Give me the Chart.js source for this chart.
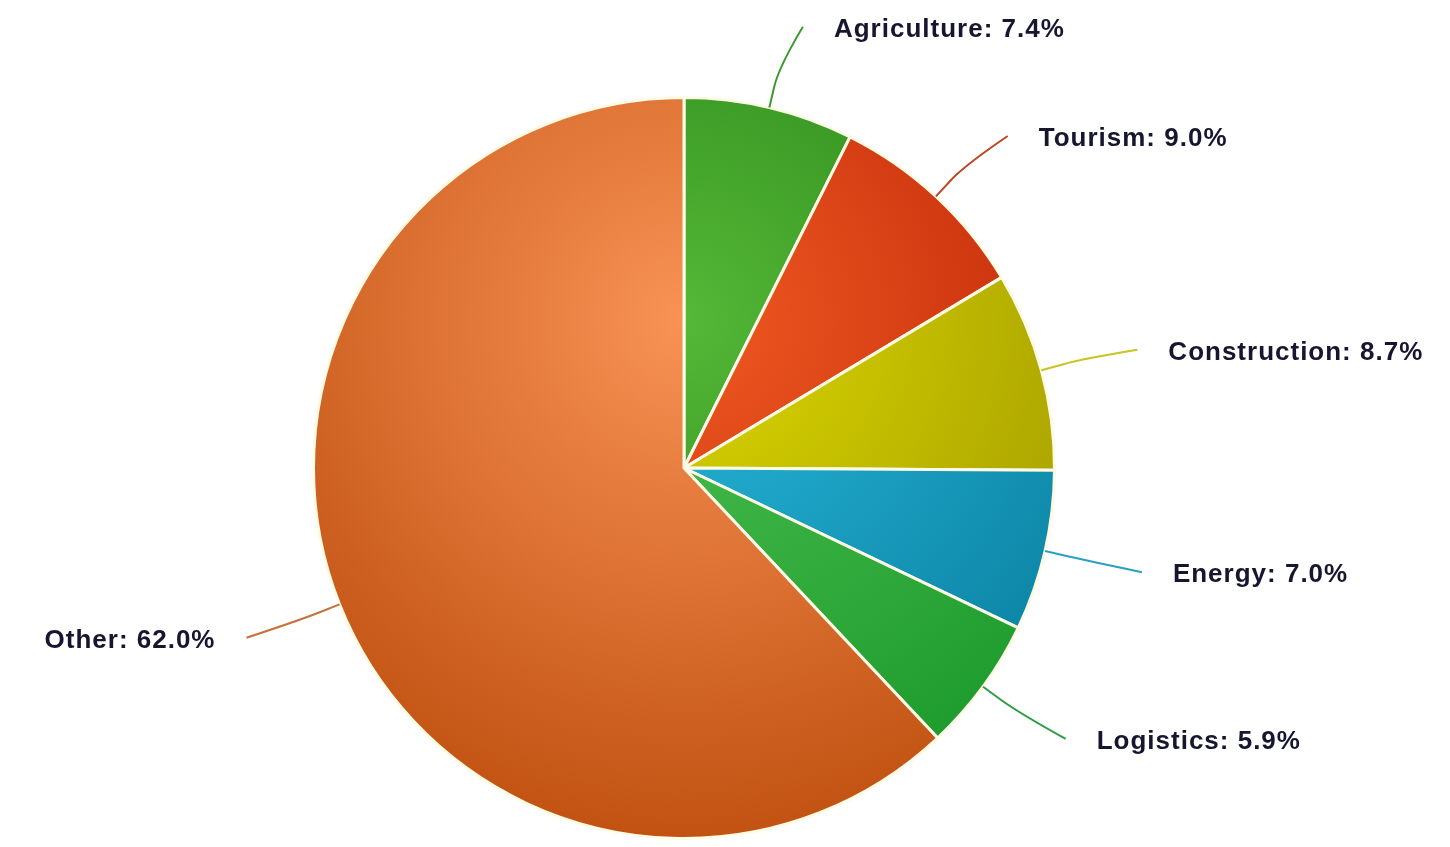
<!DOCTYPE html>
<html>
<head>
<meta charset="utf-8">
<script src="https://cdn.jsdelivr.net/npm/chart.js@4.4.1/dist/chart.umd.min.js"></script>
<style>
  html, body { margin: 0; padding: 0; background: #ffffff; }
  #wrap { position: relative; width: 1450px; height: 847px; }
</style>
</head>
<body>
<div id="wrap"><canvas id="c"></canvas></div>
<script>
const categories = ['Agriculture', 'Tourism', 'Construction', 'Energy', 'Logistics', 'Other'];
const shares = [7.4, 9.0, 8.7, 7.0, 5.9, 62.0];
const lightColors = ['#55b837', '#f05a22', '#dcd800', '#28b8dc', '#4cc050', '#f89255'];
const darkColors  = ['#1f7a12', '#b82004', '#a09800', '#0a80a0', '#1c9a2c', '#c15212'];
const lineColors  = ['#3c9a2c', '#c04422', '#c8c420', '#2aa0c0', '#2e9e44', '#c8703a'];

function sliceFill(ctx) {
  const chart = ctx.chart;
  const area = chart.chartArea;
  const i = ctx.dataIndex;
  if (!area) return lightColors[i];
  const d = Math.min(area.right - area.left, area.bottom - area.top);
  const cx = (area.left + area.right) / 2;
  const top = (area.top + area.bottom) / 2 - d / 2;
  const cy = top + 0.3 * d;
  const g = chart.ctx.createRadialGradient(cx, cy, 0, cx, cy, 0.7 * d);
  g.addColorStop(0, lightColors[i]);
  g.addColorStop(1, darkColors[i]);
  return g;
}

const labelPlugin = {
  id: 'sliceLabels',
  afterDraw(chart) {
    const meta = chart.getDatasetMeta(0);
    const ctx = chart.ctx;
    ctx.save();
    meta.data.forEach((el, i) => {
      const p = el.getProps(['x', 'y', 'startAngle', 'endAngle', 'outerRadius'], true);
      const mid = (p.startAngle + p.endAngle) / 2;
      const r = p.outerRadius;
      const cos = Math.cos(mid), sin = Math.sin(mid);
      const sign = cos >= 0 ? 1 : -1;
      const E = { x: p.x + r * cos, y: p.y + r * sin };
      const B = { x: p.x + (r + 22) * cos, y: p.y + (r + 22) * sin };
      const R2 = r + 85;
      const P = { x: p.x + R2 * cos, y: p.y + R2 * sin };
      const textMid = P.y + 5;
      const L = { x: P.x + 14 * sign, y: textMid - 3 };
      ctx.beginPath();
      ctx.moveTo(E.x, E.y);
      ctx.lineTo(B.x, B.y);
      ctx.bezierCurveTo(2 * B.x - E.x, 2 * B.y - E.y, L.x, L.y, L.x, L.y);
      ctx.strokeStyle = lineColors[i];
      ctx.lineWidth = 2;
      ctx.stroke();

      ctx.font = 'bold 26px "Liberation Sans", Arial, sans-serif';
      try { ctx.letterSpacing = '1px'; } catch (e) {}
      ctx.fillStyle = '#161630';
      ctx.textBaseline = 'middle';
      ctx.textAlign = sign > 0 ? 'left' : 'right';
      const text = categories[i] + ': ' + shares[i].toFixed(1) + '%';
      ctx.fillText(text, L.x + 31 * sign, textMid);
    });
    ctx.restore();
  }
};

new Chart(document.getElementById('c'), {
  type: 'pie',
  data: {
    labels: categories,
    datasets: [{
      data: shares,
      backgroundColor: sliceFill,
      borderColor: '#fdfbe6',
      borderWidth: 3
    }]
  },
  options: {
    responsive: true,
    maintainAspectRatio: false,
    animation: false,
    layout: { padding: { left: 312, right: 394, top: 96, bottom: 7 } },
    plugins: { legend: { display: false }, tooltip: { enabled: false } }
  },
  plugins: [labelPlugin]
});
</script>
</body>
</html>
